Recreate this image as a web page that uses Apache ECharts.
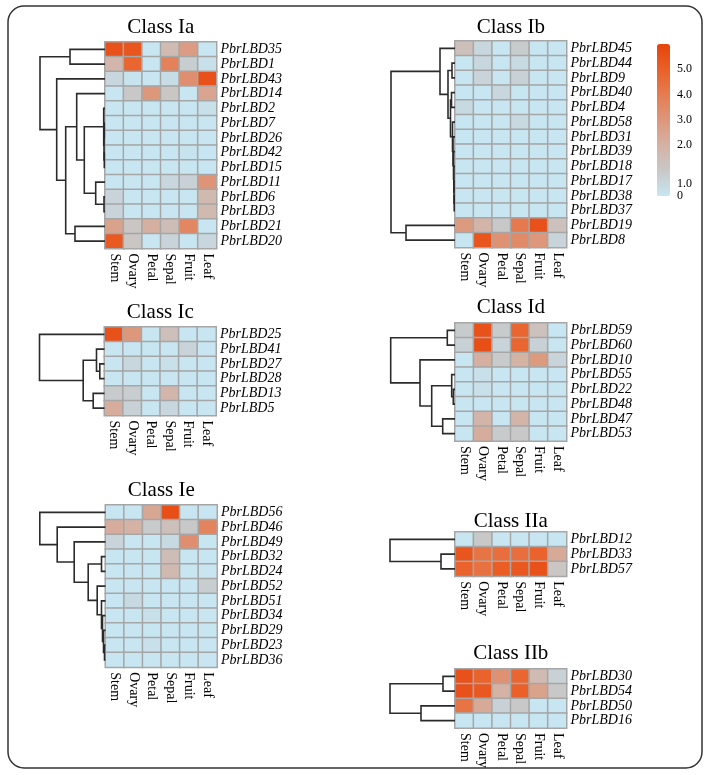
<!DOCTYPE html>
<html><head><meta charset="utf-8">
<script src="https://cdn.jsdelivr.net/npm/echarts@6/dist/echarts.min.js"></script>
<style>html,body{margin:0;padding:0;background:#fff}#c{width:710px;height:775px}</style>
</head><body><div id="c"></div>
<script>
// ---------- DATA ----------
const tissues = ['Stem', 'Ovary', 'Petal', 'Sepal', 'Fruit', 'Leaf'];

const genesIa = ['PbrLBD35','PbrLBD1','PbrLBD43','PbrLBD14','PbrLBD2','PbrLBD7','PbrLBD26','PbrLBD42','PbrLBD15','PbrLBD11','PbrLBD6','PbrLBD3','PbrLBD21','PbrLBD20'];
const valuesIa = [
  [5.5,5.4,0,1.6,2.8,0],
  [1.8,4.8,0,3.8,0.8,0.2],
  [0.5,0.1,0,0.3,3.3,5.5],
  [0,1.0,3.0,1.1,0,2.5],
  [0,0,0,0,0,0.2],
  [0,0,0,0,0,0],
  [0,0,0,0,0,0],
  [0,0,0,0,0.1,0],
  [0,0,0,0,0,0],
  [0,0,0,0.5,0.7,3.1],
  [0.6,0,0,0,0,1.7],
  [0.6,0,0,0,0,1.7],
  [2.6,1.1,2.1,1.5,3.6,0],
  [5.2,1.1,0,0.6,0,0.5]
];
const treeIa = [65, [35, 0, 1], [48.3, 2, [39.3, [28.3, 3, [20.7, [1.3, 4, [1, [0.7, 5, 6], [0.7, 7, 8]]], [9.3, 9, [1, 10, 11]]]], [30, 12, 13]]]];

const genesIb = ['PbrLBD45','PbrLBD44','PbrLBD9','PbrLBD40','PbrLBD4','PbrLBD58','PbrLBD31','PbrLBD39','PbrLBD18','PbrLBD17','PbrLBD38','PbrLBD37','PbrLBD19','PbrLBD8'];
const valuesIb = [
  [1.4,0.5,0,0.9,0,0],
  [0,0.5,0,0.4,0,0],
  [0,0.6,0,0.7,0,0],
  [0,0,0.5,0,0,0],
  [0.4,0,0,0,0,0],
  [0,0,0,0.4,0,0],
  [0,0,0,0,0,0],
  [0,0,0,0,0,0],
  [0,0,0,0,0,0],
  [0,0,0,0,0,0],
  [0,0,0,0,0,0],
  [0,0,0,0,0,0],
  [2.9,1.9,1.0,4.1,5.5,1.3],
  [0,5.4,3.2,3.5,3.0,0.6]
];
const treeIb = [64, [15, 0, [7, [3, 1, 2], [4.5, [3.5, 3, 4], [2.5, 5, [2, 6, [1.5, 7, [1.2, 8, [1, 9, [0.8, 10, 11]]]]]]]]], [49, 12, 13]];

const genesIc = ['PbrLBD25','PbrLBD41','PbrLBD27','PbrLBD28','PbrLBD13','PbrLBD5'];
const valuesIc = [
  [5.5,3.0,0,1.4,0,0],
  [0,0,0,0,0.6,0],
  [0,0.5,0,0.2,0,0],
  [0,0,0,0,0,0],
  [0.9,0.8,0,1.8,0,0],
  [2.2,0.7,0,0.5,0,0]
];
const treeIc = [65, 0, [21.3, [8, 1, [4.7, 2, 3]], [11.3, 4, 5]]];

const genesId = ['PbrLBD59','PbrLBD60','PbrLBD10','PbrLBD55','PbrLBD22','PbrLBD48','PbrLBD47','PbrLBD53'];
const valuesId = [
  [0.9,5.5,0.9,4.8,1.3,0],
  [0.7,5.6,0.6,4.8,0.7,0],
  [0,2.1,0.9,2.0,2.9,0.6],
  [0,0.2,0,0,0,0],
  [0,0.2,0,0,0,0],
  [0,0,0,0,0,0],
  [0,1.9,0,1.9,0,0],
  [0,2.2,0.9,1.0,0,0]
];
const treeId = [64.3, [7.7, 0, 1], [35, 2, [23.3, [3.3, 3, [1.7, 4, 5]], [12.3, 6, 7]]]];

const genesIe = ['PbrLBD56','PbrLBD46','PbrLBD49','PbrLBD32','PbrLBD24','PbrLBD52','PbrLBD51','PbrLBD34','PbrLBD29','PbrLBD23','PbrLBD36'];
const valuesIe = [
  [0,0,2.4,5.6,0,0],
  [2.2,2.0,0.9,1.4,1.0,3.7],
  [0.6,0,0,0.4,3.3,0],
  [0,0,0,1.5,0,0],
  [0,0,0,1.7,0,0],
  [0,0,0,0,0,0.8],
  [0,0.4,0,0,0,0],
  [0,0,0.2,0,0,0],
  [0,0,0,0,0,0],
  [0,0,0.2,0,0,0],
  [0,0,0,0,0,0]
];
const treeIe = [65.7, 0, [48.3, 1, [31.3, 2, [17.3, [4, 3, 4], [8.3, 5, [4, 6, [3, 7, [2, 8, [1, 9, 10]]]]]]]]];

const genesIIa = ['PbrLBD12','PbrLBD33','PbrLBD57'];
const valuesIIa = [
  [0,1.0,0,0,0,0],
  [5.4,4.3,4.5,4.5,4.9,2.3],
  [4.9,4.4,5.1,5.3,5.5,1.1]
];
const treeIIa = [65, 0, [14, 1, 2]];

const genesIIb = ['PbrLBD30','PbrLBD54','PbrLBD50','PbrLBD16'];
const valuesIIb = [
  [5.5,4.9,3.2,4.8,1.6,0.7],
  [5.5,5.3,2.0,5.0,2.6,1.0],
  [4.3,2.3,0.7,1.0,0,0],
  [0,0,0,0,0,0]
];
const treeIIb = [65, [12, 0, 1], [34, 2, 3]];

const legendTicks = [0, 1, 2, 3, 4, 5];
const legendMin = 0, legendMax = 6;
const colorStops = ['#c7e6f2', '#c8c8c8', '#d4b2a4', '#dd977b', '#e57c52', '#ea6028', '#e6440c'];

// ---------- LAYOUT ----------
const FONT = '"Liberation Serif", "Times New Roman", serif';
const ROW_H = 14.75, HM_W = 111.5, DENDRO_W = 66;
const panels = [
  {title: 'Class Ia',  genes: genesIa,  values: valuesIa,  tree: treeIa,  left: 105,   top: 42,  titleY: 27},
  {title: 'Class Ib',  genes: genesIb,  values: valuesIb,  tree: treeIb,  left: 455,   top: 41,  titleY: 27},
  {title: 'Class Ic',  genes: genesIc,  values: valuesIc,  tree: treeIc,  left: 104.5, top: 327, titleY: 312},
  {title: 'Class Id',  genes: genesId,  values: valuesId,  tree: treeId,  left: 455,   top: 323, titleY: 307},
  {title: 'Class Ie',  genes: genesIe,  values: valuesIe,  tree: treeIe,  left: 105.5, top: 505, titleY: 490},
  {title: 'Class IIa', genes: genesIIa, values: valuesIIa, tree: treeIIa, left: 455,   top: 532, titleY: 521},
  {title: 'Class IIb', genes: genesIIb, values: valuesIIb, tree: treeIIb, left: 455,   top: 669, titleY: 653}
];

function treeSegments(tree) {
  const segs = [];
  function walk(node) {
    if (typeof node === 'number') return {h: 0, y: node};
    const a = walk(node[1]), b = walk(node[2]), h = node[0];
    segs.push({coords: [[a.h, a.y], [h, a.y], [h, b.y], [b.h, b.y]]});
    return {h: h, y: (a.y + b.y) / 2};
  }
  walk(tree);
  return segs;
}

const grid = [], xAxis = [], yAxis = [], series = [], graphic = [], hmIdx = [];
panels.forEach((p, k) => {
  const n = p.genes.length, H = n * ROW_H;
  // heatmap grid
  grid.push({left: p.left, top: p.top, width: HM_W, height: H, containLabel: false});
  const gi = grid.length - 1;
  xAxis.push({type: 'category', gridIndex: gi, data: tissues, position: 'bottom',
    axisLine: {show: false}, axisTick: {show: false}, splitLine: {show: false},
    axisLabel: {rotate: -90, margin: 5, fontSize: 14, fontFamily: FONT, color: '#000', interval: 0}});
  yAxis.push({type: 'category', gridIndex: gi, data: p.genes, inverse: true, position: 'right',
    axisLine: {show: false}, axisTick: {show: false}, splitLine: {show: false},
    axisLabel: {margin: 4, fontSize: 14, fontStyle: 'italic', fontFamily: FONT, color: '#000', interval: 0}});
  const data = [];
  p.values.forEach((row, r) => row.forEach((v, c) => data.push([c, r, v])));
  hmIdx.push(series.length);
  series.push({type: 'heatmap', xAxisIndex: gi, yAxisIndex: gi, data: data,
    itemStyle: {borderColor: '#a6a6a6', borderWidth: 1.5}, emphasis: {disabled: true}, silent: true});
  // dendrogram grid
  grid.push({left: p.left - DENDRO_W, top: p.top, width: DENDRO_W, height: H});
  const di = grid.length - 1;
  xAxis.push({type: 'value', gridIndex: di, min: 0, max: DENDRO_W, inverse: true, show: false});
  yAxis.push({type: 'value', gridIndex: di, min: -0.5, max: n - 0.5, inverse: true, show: false});
  series.push({type: 'lines', coordinateSystem: 'cartesian2d', xAxisIndex: di, yAxisIndex: di,
    polyline: true, data: treeSegments(p.tree), silent: true,
    lineStyle: {color: '#2b2b2b', width: 1.6, opacity: 1}});
  graphic.push({type: 'text', x: p.left + HM_W / 2, y: p.titleY,
    style: {text: p.title, fontSize: 21, fontFamily: FONT, fill: '#000', textAlign: 'center', textVerticalAlign: 'middle'}});
});

// colour-bar axis
grid.push({left: 657, top: 44, width: 13, height: 152});
const ci = grid.length - 1;
xAxis.push({type: 'value', gridIndex: ci, show: false, min: 0, max: 1});
yAxis.push({type: 'value', gridIndex: ci, min: legendMin, max: legendMax, interval: 1, position: 'right',
  axisLine: {show: false}, axisTick: {show: false}, splitLine: {show: false},
  axisLabel: {margin: 7, fontSize: 12, fontFamily: FONT, color: '#000', showMaxLabel: false,
    formatter: v => legendTicks.indexOf(v) < 0 ? '' : (v === 0 ? '0' : (v === 1 ? '{d|1.0}' : v.toFixed(1))),
    rich: {d: {fontSize: 12, fontFamily: FONT, color: '#000', padding: [26, 0, 0, 0]}}}});

graphic.push({type: 'rect', shape: {x: 8, y: 6, width: 694, height: 762, r: 16},
  style: {fill: 'none', stroke: '#333', lineWidth: 1.5}, silent: true, z: -1});

const chart = echarts.init(document.getElementById('c'), null, {renderer: 'canvas'});
chart.setOption({
  animation: false,
  backgroundColor: '#fff',
  grid, xAxis, yAxis, series, graphic,
  visualMap: {type: 'continuous', min: legendMin, max: legendMax, seriesIndex: hmIdx,
    inRange: {color: colorStops}, calculable: false, orient: 'vertical',
    left: 657, top: 44, itemWidth: 13, itemHeight: 152, padding: 0, text: ['', ''],
    hoverLink: false, realtime: false}
});
</script></body></html>
